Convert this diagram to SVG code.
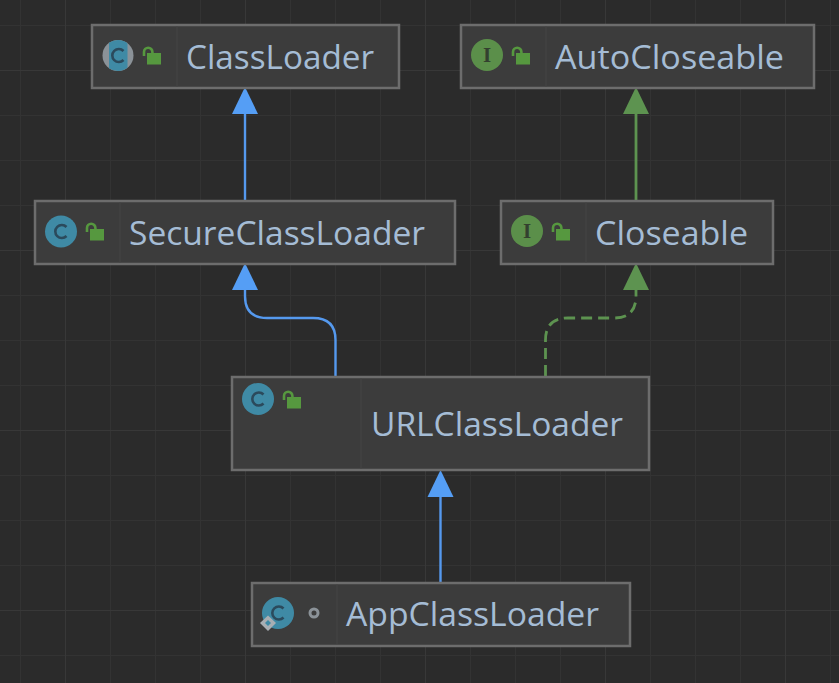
<svg xmlns="http://www.w3.org/2000/svg" width="839" height="683" viewBox="0 0 839 683">
<style>
.box{fill:#3c3c3c;stroke:#6d6d6d;stroke-width:2.500}
.sep{stroke:#444;stroke-width:1}
.t{font-family:"Open Sans","Noto Sans","Liberation Sans",sans-serif;font-size:33px;fill:#a5bcd5}
.c{fill:#3f8aa5}.i{fill:#5b8f4a}
.g{font-family:"Liberation Serif",serif;font-size:21px;font-weight:bold;text-anchor:middle}
.lockb{fill:#56983f}.locks{fill:none;stroke:#56983f;stroke-width:2.600}
.blue{fill:none;stroke:#5599ee;stroke-width:2.400}.green{fill:none;stroke:#5d9350;stroke-width:2.800}
.cg{fill:none;stroke:#2b4a5c;stroke-width:2.600}
</style>
<defs>
<pattern id="grid" width="45" height="45" patternUnits="userSpaceOnUse" x="20" y="25"><path d="M0.500 0V45M0 0.500H45" fill="none" stroke="#333" stroke-width="1"/></pattern>
<pattern id="gridm" width="180" height="180" patternUnits="userSpaceOnUse" x="65" y="70"><path d="M0.500 0V180M0 0.500H180" fill="none" stroke="#383838" stroke-width="1"/></pattern>
<g id="lock"><path class="locks" d="M-7.500 1v-4a4.200 4.200 0 0 1 8.400 0v1"/><rect class="lockb" x="-4.500" y="-2" width="14" height="11.500"/></g>
<clipPath id="band"><rect x="109" y="39" width="18.500" height="33"/></clipPath>
</defs>
<rect width="839" height="683" fill="#2b2b2b"/>
<rect width="839" height="683" fill="url(#grid)"/>
<rect width="839" height="683" fill="url(#gridm)"/>
<g id="connectors">
<path class="blue" d="M245 200V112"/>
<path fill="#559ef5" d="M245 87l13 27h-26z"/>
<path class="green" d="M636 200V112"/>
<path fill="#5d9350" d="M636 87l13 27h-26z"/>
<path class="blue" d="M335.500 376V340Q335.500 318 313 318H267Q245 318 245 296V288"/>
<path fill="#559ef5" d="M245 263l13 27h-26z"/>
<path class="green" stroke-dasharray="11 6" d="M545.500 376V340Q545.500 318 568 318H614Q636 318 636 296V288"/>
<path fill="#5d9350" d="M636 263l13 27h-26z"/>
<path class="blue" d="M440.500 582V495"/>
<path fill="#559ef5" d="M440.500 470l13 27h-26z"/>
</g>
<g id="ClassLoader">
<rect class="box" x="92" y="25" width="307" height="63"/>
<path class="sep" d="M177 26V87"/>
<circle cx="118" cy="55.500" r="15.500" fill="#8b9298"/>
<circle class="c" cx="118" cy="55.500" r="15.500" clip-path="url(#band)"/>
<path class="cg" d="M123.500 51a6.500 6.500 0 1 0 0 9"/>
<use href="#lock" x="151.500" y="55"/>
<text class="t" x="186" y="69" textLength="188" lengthAdjust="spacingAndGlyphs">ClassLoader</text>
</g>
<g id="AutoCloseable">
<rect class="box" x="461" y="25" width="353" height="63"/>
<path class="sep" d="M546 26V87"/>
<circle class="i" cx="487" cy="55" r="16"/>
<text class="g" x="487" y="62" fill="#33402f">I</text>
<use href="#lock" x="520.500" y="55"/>
<text class="t" x="555" y="69" textLength="229" lengthAdjust="spacingAndGlyphs">AutoCloseable</text>
</g>
<g id="SecureClassLoader">
<rect class="box" x="35" y="201" width="420" height="63"/>
<path class="sep" d="M120 202V263"/>
<circle class="c" cx="61" cy="231.500" r="16"/>
<path class="cg" d="M66.500 227a6.500 6.500 0 1 0 0 9"/>
<use href="#lock" x="94.500" y="231"/>
<text class="t" x="129" y="245" textLength="296" lengthAdjust="spacingAndGlyphs">SecureClassLoader</text>
</g>
<g id="Closeable">
<rect class="box" x="501" y="201" width="272" height="63"/>
<path class="sep" d="M586 202V263"/>
<circle class="i" cx="527" cy="231" r="16"/>
<text class="g" x="527" y="238" fill="#33402f">I</text>
<use href="#lock" x="560.500" y="231"/>
<text class="t" x="595" y="245" textLength="153" lengthAdjust="spacingAndGlyphs">Closeable</text>
</g>
<g id="URLClassLoader">
<rect class="box" x="232" y="377" width="417" height="93"/>
<path class="sep" d="M361 378V469"/>
<circle class="c" cx="258" cy="399" r="16"/>
<path class="cg" d="M263.500 394.500a6.500 6.500 0 1 0 0 9"/>
<use href="#lock" x="291.500" y="399"/>
<text class="t" x="371" y="436" textLength="252" lengthAdjust="spacingAndGlyphs">URLClassLoader</text>
</g>
<g id="AppClassLoader">
<rect class="box" x="252" y="583" width="378" height="63"/>
<path class="sep" d="M337 584V644"/>
<circle class="c" cx="278" cy="613" r="16"/>
<path class="cg" d="M283.500 608.500a6.500 6.500 0 1 0 0 9"/>
<path d="M268 615.500l8 7.500-8 8-8-8z" fill="#a8aeb3"/>
<path d="M268 620l3 3-3 3-3-3z" fill="#3f8aa5"/>
<circle cx="314" cy="613" r="4" fill="none" stroke="#8b9298" stroke-width="3"/>
<text class="t" x="346" y="626" textLength="253" lengthAdjust="spacingAndGlyphs">AppClassLoader</text>
</g>
</svg>
